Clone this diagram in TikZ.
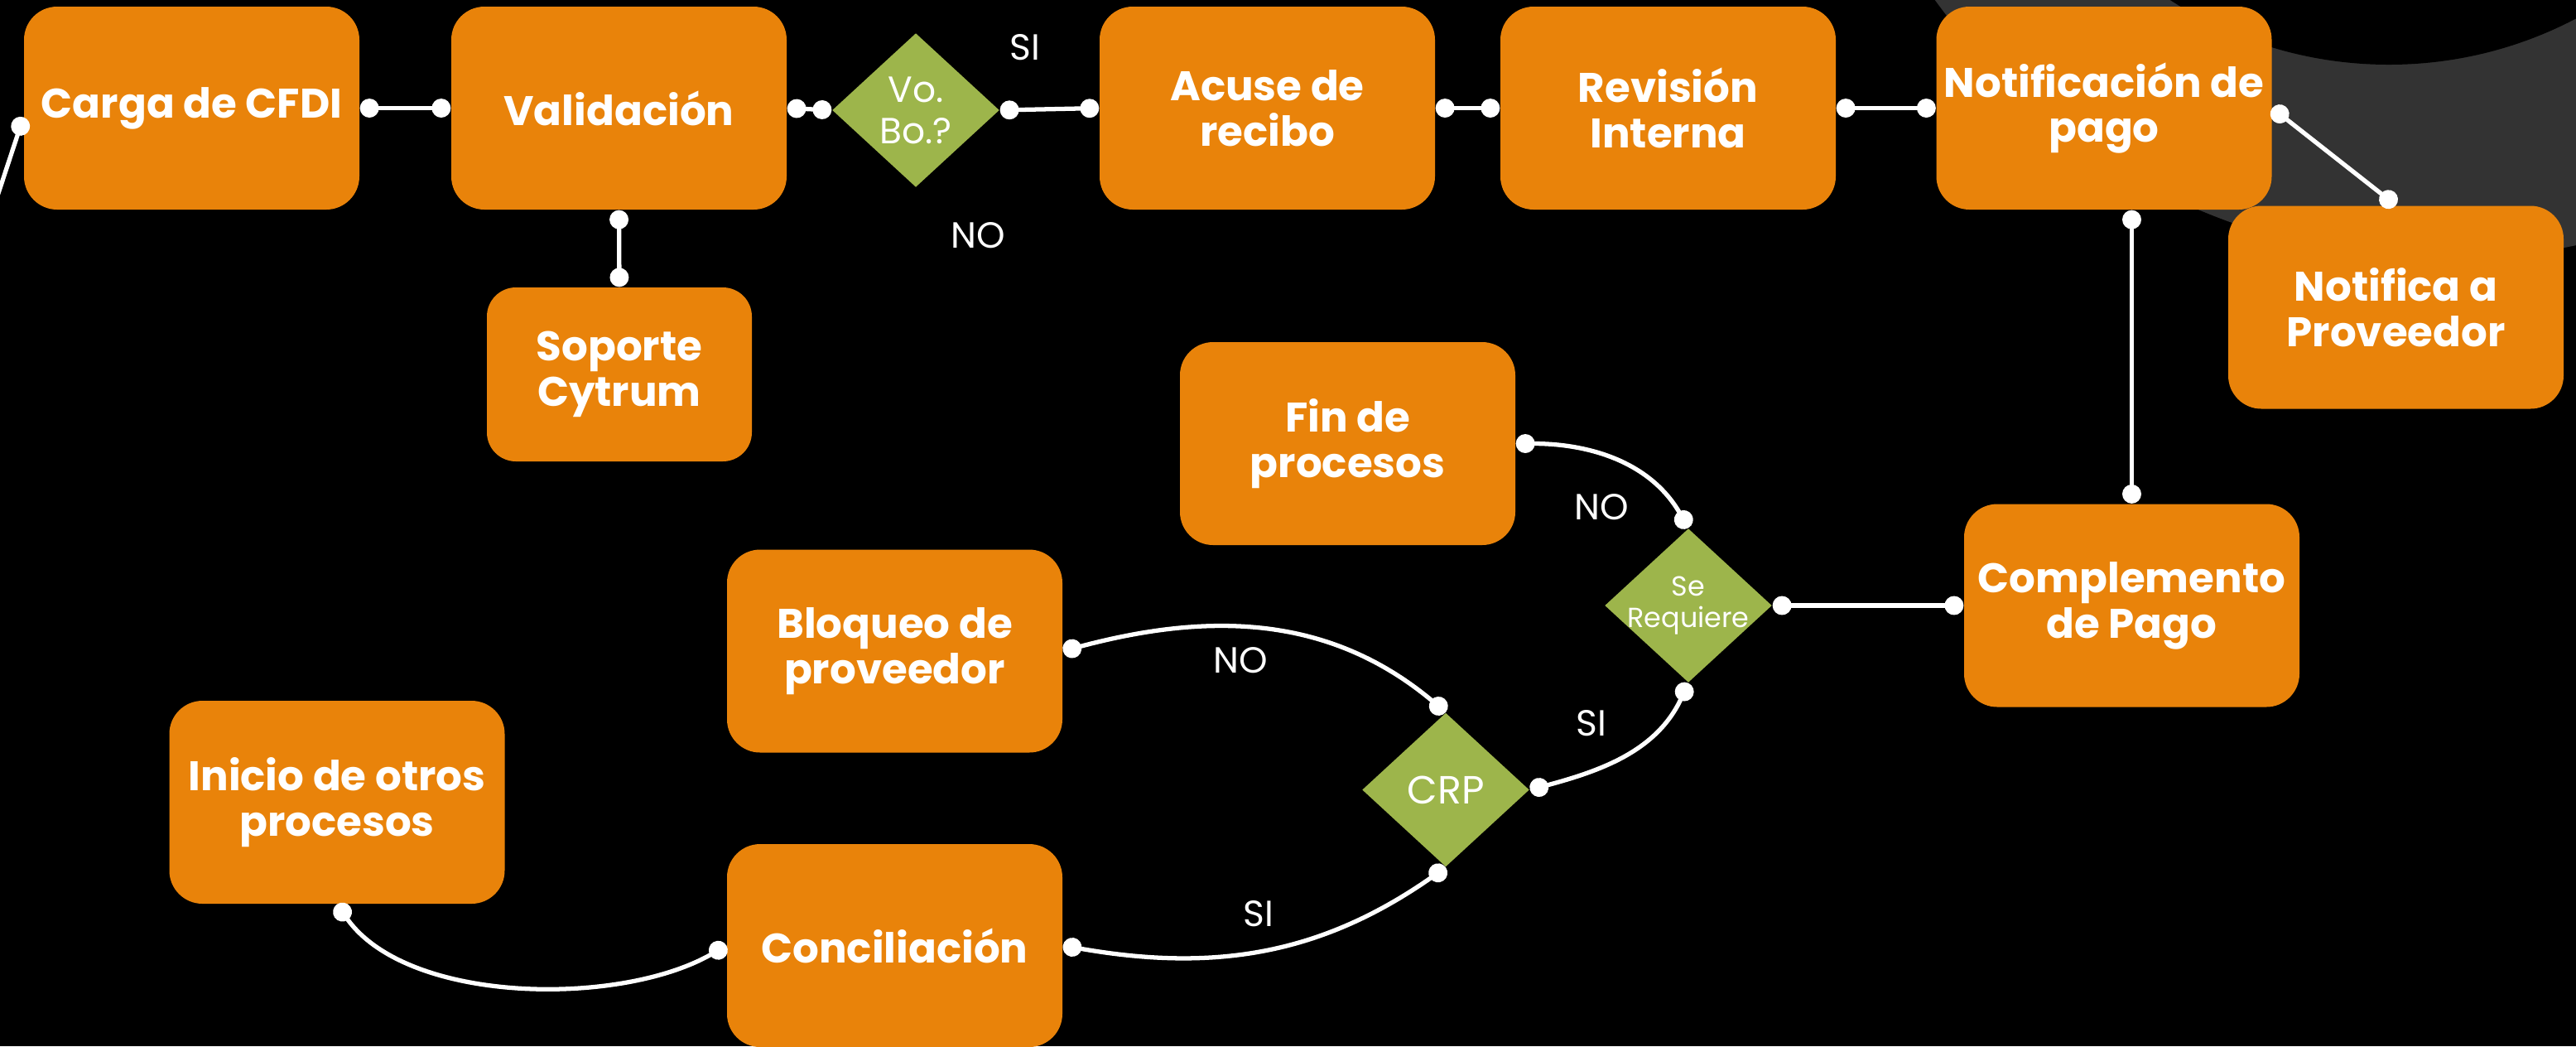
\documentclass[tikz,border=0pt]{standalone}
\usepackage{fontspec}
\setmainfont{Poppins}
\usetikzlibrary{shapes.geometric,arrows.meta}

\definecolor{pasonaranja}{HTML}{E9830A}
\definecolor{decverde}{HTML}{9DB54B}
\definecolor{arcogris}{HTML}{333333}

\tikzset{
  paso/.style={fill=pasonaranja, rounded corners=0.4cm, minimum width=4.05cm, minimum height=2.45cm,
    inner sep=0pt, text=white, align=center, font=\bfseries\fontsize{14.2}{15.6}\selectfont},
  decision/.style={diamond, fill=decverde, inner sep=0pt, minimum width=2.02cm, minimum height=1.86cm},
  dtexto/.style={text=white, align=center},
  etiqueta/.style={text=white, font=\fontsize{12.5}{14}\selectfont},
  liga/.style={draw=white, line width=1.5pt, {Circle[length=6.5pt]}-{Circle[length=6.5pt]}},
}

\begin{document}
\begin{tikzpicture}
  \useasboundingbox (0,0) rectangle (31.11,-12.63);
  \fill[black] (0,0) rectangle (31.11,-12.63);
  \clip (0,0) rectangle (31.11,-12.63);

  % arco de fondo
  \fill[arcogris] (29.51,4.46) circle (7.59);
  \fill[black] (28.85,4.08) circle (4.86);

  % fila superior
  \node[paso] (carga) at (2.315,-1.305) {Carga de CFDI};
  \node[paso] (valid) at (7.475,-1.305) {Validación};
  \node[decision, label={[dtexto, font=\fontsize{12.5}{14.2}\selectfont]center:{Vo.\\Bo.?}}] (vobo) at (11.06,-1.33) {};
  \node[paso] (acuse) at (15.305,-1.305) {Acuse de\\recibo};
  \node[paso] (revision) at (20.145,-1.305) {Revisión\\Interna};
  \node[paso] (notif) at (25.41,-1.305) {Notificación de\\pago};
  \node[paso] (notprov) at (28.935,-3.71) {Notifica a\\Proveedor};
  \node[paso, minimum width=3.2cm, minimum height=2.1cm, rounded corners=0.35cm] (soporte) at (7.48,-4.52) {Soporte\\Cytrum};

  % parte baja
  \node[paso] (complemento) at (25.745,-7.31) {Complemento\\de Pago};
  \node[paso] (fin) at (16.275,-5.355) {Fin de\\procesos};
  \node[decision, label={[dtexto, font=\fontsize{9.5}{10.8}\selectfont]center:{Se\\Requiere}}] (sereq) at (20.39,-7.31) {};
  \node[decision, label={[dtexto, font=\fontsize{13.5}{15}\selectfont]center:{CRP}}] (crp) at (17.46,-9.535) {};
  \node[paso] (bloqueo) at (10.805,-7.86) {Bloqueo de\\proveedor};
  \node[paso] (concil) at (10.805,-11.415) {Conciliación};
  \node[paso] (inicio) at (4.07,-9.685) {Inicio de otros\\procesos};

  % etiquetas
  \node[etiqueta] (si1) at (12.38,-0.57) {SI};
  \node[etiqueta] (no1) at (11.81,-2.84) {NO};
  \node[etiqueta] (no2) at (19.34,-6.12) {NO};
  \node[etiqueta] (no3) at (14.98,-7.97) {NO};
  \node[etiqueta] (si2) at (19.22,-8.73) {SI};
  \node[etiqueta] (si3) at (15.20,-11.03) {SI};

  % ligas
  \coordinate (entrada) at (-0.24,-3.0);
  \draw[liga, {Circle[length=6.5pt]}-] ([yshift=-0.11cm]carga.west) -- (entrada);
  \draw[liga] (carga.east) -- (valid.west);
  \draw[liga] (valid.east) -- (vobo.west);
  \draw[liga] (vobo.east) -- (acuse.west);
  \draw[liga] (acuse.east) -- (revision.west);
  \draw[liga] (revision.east) -- (notif.west);
  \draw[liga] (notif.east) -- (notprov.north);
  \draw[liga] (notif.south -| complemento.north) -- (complemento.north);
  \draw[liga] (valid.south) -- (soporte.north);
  \draw[liga] (complemento.west) -- (sereq.east);
  \draw[liga] (fin.east) to[out=0,in=120] (sereq.north);
  \draw[liga] (crp.east) to[out=15,in=-115] (sereq.south);
  \draw[liga] (bloqueo.east) to[out=15,in=140] (crp.north);
  \draw[liga] (concil.east) to[out=-10,in=-145] (crp.south);
  \draw[liga] (inicio.south) to[out=-55,in=-150,looseness=0.8] (concil.west);
\end{tikzpicture}
\end{document}
